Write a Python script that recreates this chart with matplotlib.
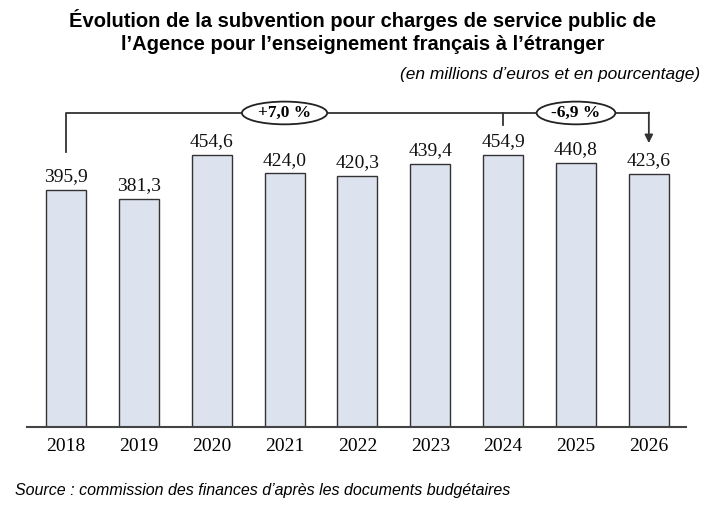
import matplotlib.pyplot as plt
from matplotlib.patches import Ellipse

years = ['2018', '2019', '2020', '2021', '2022', '2023', '2024', '2025', '2026']
values = [395.9, 381.3, 454.6, 424.0, 420.3, 439.4, 454.9, 440.8, 423.6]
labels = ['395,9', '381,3', '454,6', '424,0', '420,3', '439,4', '454,9', '440,8', '423,6']
changes = ['+7,0 %', '-6,9 %']

serif = ['Liberation Serif', 'DejaVu Serif']

fig = plt.figure(figsize=(7.25, 5.2), dpi=100)
ax = fig.add_axes([27 / 725, 1 - 427 / 520, (686 - 27) / 725, 323 / 520])

x = list(range(len(years)))
ax.bar(x, values, width=0.55, color='#dde3ee', edgecolor='#333333', linewidth=1.0, zorder=2)

for xi, v, lab in zip(x, values, labels):
    ax.text(xi, v + 8, lab, ha='center', va='bottom', fontsize=14, family=serif, color='#111111')

ax.set_xlim(-0.535, 8.51)
ax.set_ylim(0, 540)
ax.set_xticks(x)
ax.set_xticklabels(years, fontsize=14, family=serif)
ax.tick_params(axis='x', length=0, pad=8)
ax.set_yticks([])
for s in ['top', 'right', 'left']:
    ax.spines[s].set_visible(False)
ax.spines['bottom'].set_color('#444444')
ax.spines['bottom'].set_linewidth(1.5)

# bracket
top = 525
lc = '#333333'
ax.plot([0, 0, 8], [values[0] + 64, top, top], color=lc, lw=1.3, zorder=3)
ax.plot([6, 6], [top, top - 20], color=lc, lw=1.3, zorder=3)
ax.annotate('', xy=(8, values[8] + 51), xytext=(8, top + 0.8),
            arrowprops=dict(arrowstyle='-|>', color=lc, lw=1.3, mutation_scale=12,
                            shrinkA=0, shrinkB=0), zorder=3)

for xc, w, txt in [(3.0, 1.17, changes[0]), (7.0, 1.08, changes[1])]:
    ax.add_patch(Ellipse((xc, top), w, 38, facecolor='white', edgecolor='#222222',
                         lw=1.3, zorder=4, clip_on=False))
    ax.text(xc, top, txt, ha='center', va='center', fontsize=12.5, fontweight='bold',
            family=serif, zorder=5)

fig.text(0.5, 1 - 20 / 520, 'Évolution de la subvention pour charges de service public de',
         ha='center', va='center', fontsize=14.5, fontweight='bold', family='Liberation Sans')
fig.text(0.5, 1 - 45 / 520, 'l’Agence pour l’enseignement français à l’étranger',
         ha='center', va='center', fontsize=14.5, fontweight='bold', family='Liberation Sans')
fig.text(700 / 725, 1 - 75 / 520, '(en millions d’euros et en pourcentage)',
         ha='right', va='center', fontsize=12.5, style='italic', family='Liberation Sans')
fig.text(15 / 725, 1 - 491 / 520, 'Source : commission des finances d’après les documents budgétaires',
         ha='left', va='center', fontsize=11.5, style='italic', family='Liberation Sans')

fig.savefig('out.png', dpi=100)
